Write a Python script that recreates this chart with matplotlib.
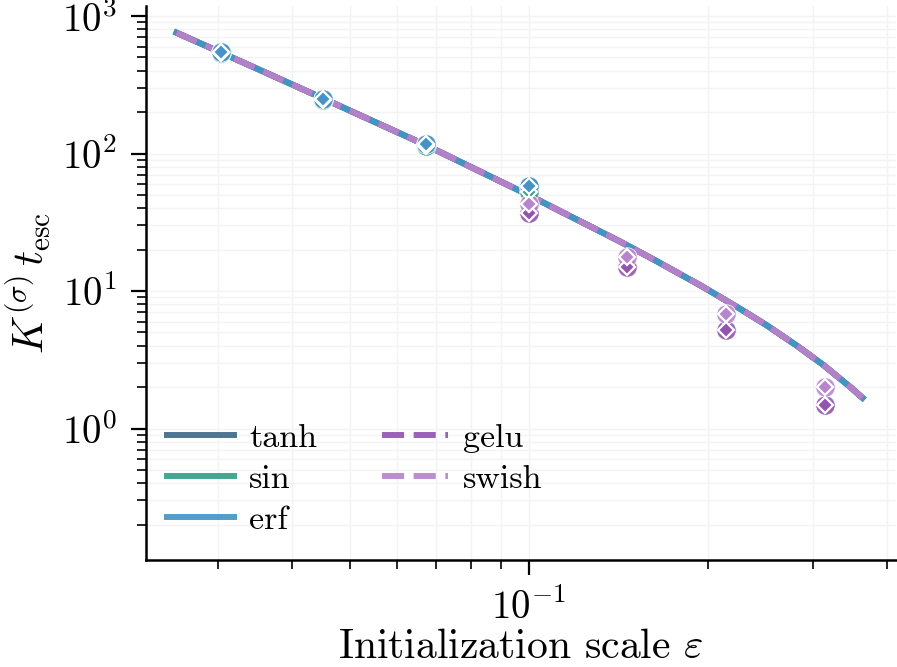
import numpy as np
import matplotlib
matplotlib.use("Agg")
import matplotlib.pyplot as plt
from matplotlib.ticker import LogLocator, NullFormatter

plt.rcParams['font.family'] = 'serif'
plt.rcParams['font.serif'] = ['cmr10']
plt.rcParams['mathtext.fontset'] = 'cm'
plt.rcParams['axes.formatter.use_mathtext'] = True
plt.rcParams['axes.unicode_minus'] = True

# theory curve (same for all activations)
eps_line = [0.0256, 0.0304, 0.0452, 0.0672, 0.1, 0.1425, 0.1621, 0.1942,
            0.2267, 0.2514, 0.2823, 0.3129, 0.3470, 0.3639]
kt_line = [757, 543.6, 251.2, 115.1, 49.9, 22.9, 17.0, 11.03,
           7.43, 5.63, 4.01, 2.90, 2.01, 1.675]

# measured escape times
eps_small = [0.0304, 0.0452, 0.0672, 0.1]
eps_large = [0.1, 0.1466, 0.2148, 0.3148]
kt_tanh = [545, 249.5, 117.5, 57.5]
kt_sin = [540, 246, 114, 52.5]
kt_erf = [545, 249.5, 117.5, 58.4]
kt_gelu = [37.2, 14.9, 5.21, 1.484]
kt_swish = [42.8, 17.6, 6.78, 2.02]

names = ['tanh', 'sin', 'erf', 'gelu', 'swish']
colors = ['#3f6a8a', '#35a08a', '#4693c8', '#9355ad', '#b785cb']
styles = ['-', '-', '-', '--', '--']
pts_x = [eps_small, eps_small, eps_small, eps_large, eps_large]
pts_y = [kt_tanh, kt_sin, kt_erf, kt_gelu, kt_swish]

fig = plt.figure(figsize=(8.97, 6.67), dpi=100)
ax = fig.add_axes([0.1628, 0.1604, 0.8358, 0.8306])

for name, c, ls in zip(names, colors, styles):
    ax.plot(eps_line, kt_line, color=c, ls=ls, lw=4.3, alpha=0.92, label=name, zorder=2)

for c, xs, ys in zip(colors, pts_x, pts_y):
    ax.plot(xs, ys, 'o', ms=14, color=c, mec='white', mew=0.6, alpha=0.9, zorder=3)
    ax.plot(xs, ys, 'D', ms=7.8, color=c, mec='white', mew=1.6, zorder=4)

ax.set_xscale('log')
ax.set_yscale('log')
ax.set_xlim(0.02275, 0.414)
ax.set_ylim(0.1107, 1184)

ax.xaxis.set_minor_locator(LogLocator(base=10, subs=np.arange(2, 10)))
ax.xaxis.set_minor_formatter(NullFormatter())
ax.yaxis.set_minor_formatter(NullFormatter())

ax.grid(True, which='both', color='#f3f3f3', lw=1.0, zorder=0)
ax.set_axisbelow(True)
for s in ['top', 'right']:
    ax.spines[s].set_visible(False)
for s in ['left', 'bottom']:
    ax.spines[s].set_linewidth(1.8)
ax.tick_params(which='major', length=11, width=1.6, labelsize=28, pad=10)
ax.tick_params(which='minor', length=6.5, width=1.2)

ax.set_xlabel(r'Initialization scale $\varepsilon$', fontsize=30, labelpad=1)
ax.set_ylabel(r'$K^{(\sigma)}\,t_{\mathrm{esc}}$', fontsize=30, labelpad=6)

ax.legend(loc='lower left', bbox_to_anchor=(-0.017, -0.016), ncol=2, frameon=False,
          fontsize=24.5, handlelength=1.95, handletextpad=0.45, columnspacing=1.9,
          labelspacing=0.33, borderaxespad=0.6)

fig.savefig('out.png', dpi=100)
